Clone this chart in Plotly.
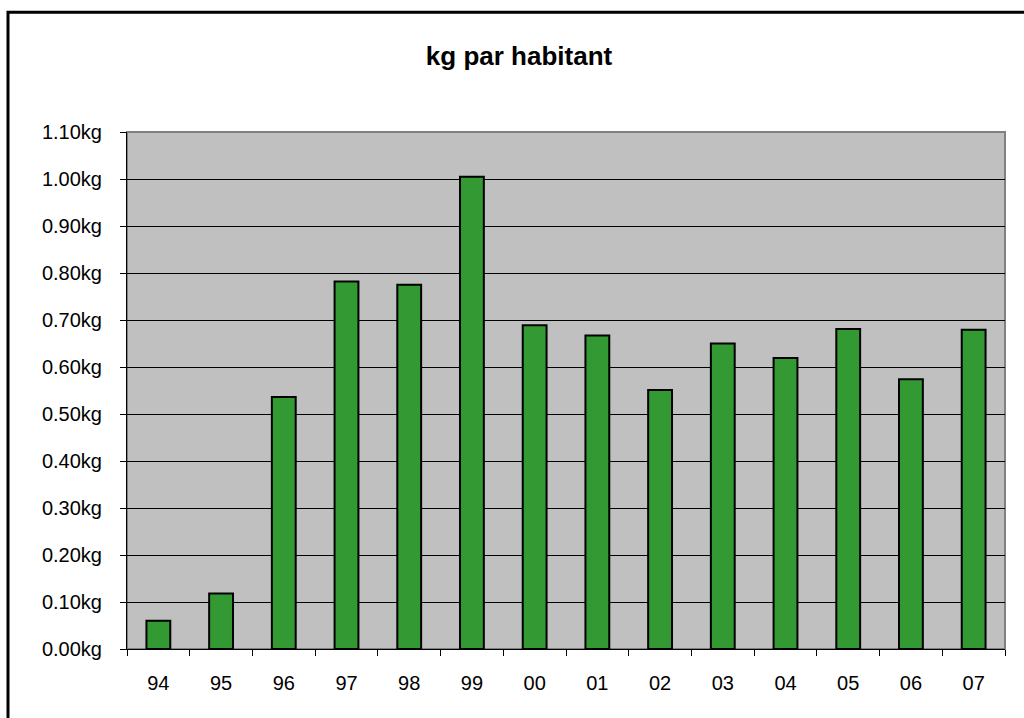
import plotly.graph_objects as go

years = ["94", "95", "96", "97", "98", "99", "00", "01", "02", "03", "04", "05", "06", "07"]
kg_per_inhabitant = [0.060, 0.118, 0.536, 0.782, 0.775, 1.005, 0.689, 0.667, 0.551, 0.650, 0.619, 0.681, 0.574, 0.679]
y_ticks = [0.0, 0.1, 0.2, 0.3, 0.4, 0.5, 0.6, 0.7, 0.8, 0.9, 1.0, 1.1]
y_tick_labels = [f"{v:.2f}kg" for v in y_ticks]

W, H = 1024, 718
L, R, T, B = 127, 19, 132, 69
pw, ph = W - L - R, H - T - B

fig = go.Figure()
fig.add_trace(go.Bar(
    x=years, y=kg_per_inhabitant,
    marker=dict(color="#339933", line=dict(color="black", width=2)),
    hoverinfo="x+y",
))

font = "Liberation Sans, Arial, sans-serif"
fig.update_layout(
    width=W, height=H,
    margin=dict(l=L, r=R, t=T, b=B),
    paper_bgcolor="white",
    plot_bgcolor="#C0C0C0",
    bargap=0.62,
    showlegend=False,
    font=dict(family=font, color="black", size=20),
    title=dict(text="<b>kg par habitant</b>", x=519 / W, xref="container",
               y=1 - 56 / H, yref="container", xanchor="center", yanchor="middle",
               font=dict(family=font, size=26, color="black")),
    xaxis=dict(
        type="category", tickson="boundaries", ticks="outside", ticklen=6,
        tickcolor="black", showline=True, linecolor="black", linewidth=1,
        showgrid=False, tickfont=dict(size=20), ticklabelstandoff=16,
    ),
    yaxis=dict(
        range=[0, 1.1], tickmode="array", tickvals=y_ticks, ticktext=y_tick_labels,
        ticks="outside", ticklen=6, tickcolor="black",
        showline=True, linecolor="black", linewidth=1,
        showgrid=True, gridcolor="black", gridwidth=1, zeroline=False,
        tickfont=dict(size=20), ticklabelstandoff=14,
    ),
    shapes=[
        dict(type="rect", xref="paper", yref="paper", x0=0, x1=1, y0=0, y1=1,
             line=dict(color="#808080", width=2), layer="below"),
        dict(type="rect", xref="paper", yref="paper",
             x0=(8 - L) / pw, x1=2.0, y0=-0.5, y1=(H - B - 12.3) / ph,
             line=dict(color="black", width=3)),
    ],
)

fig.write_html("out.html", config={"displayModeBar": False},
               post_script="document.body.style.margin='0';document.body.style.overflow='hidden';")
